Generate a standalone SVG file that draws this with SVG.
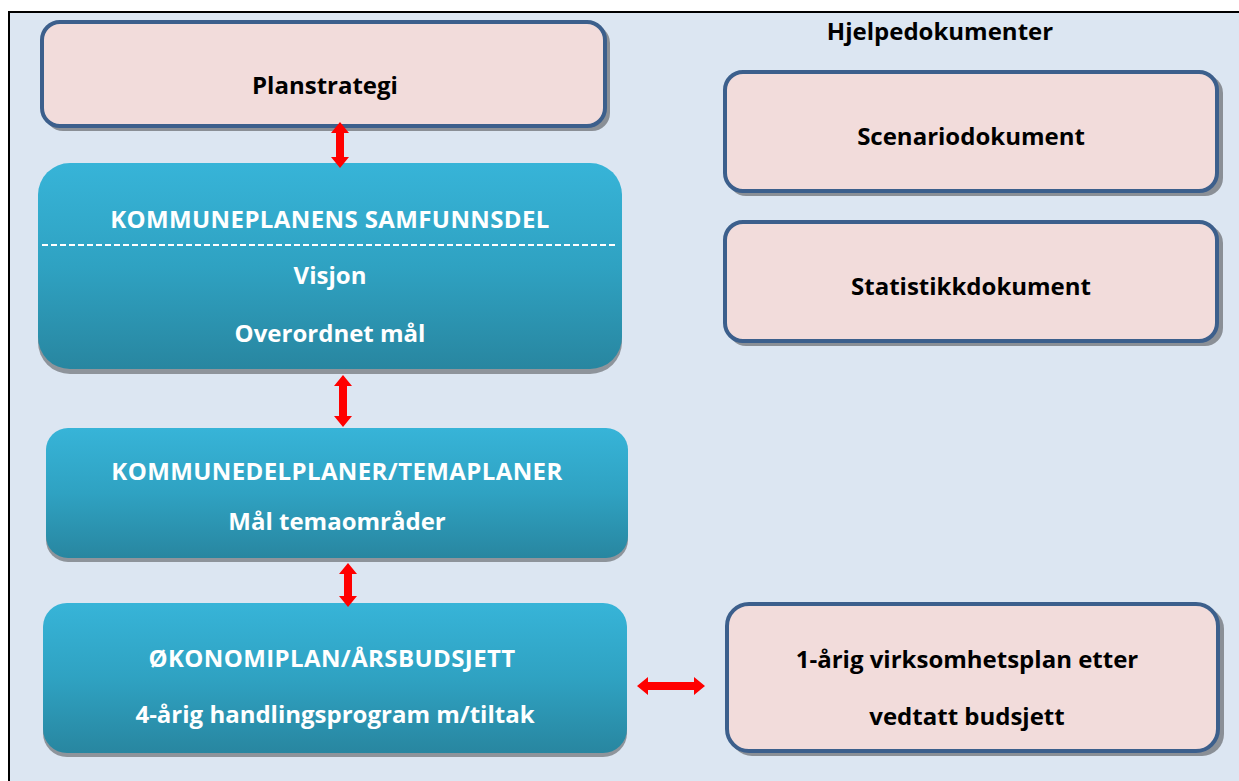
<svg xmlns="http://www.w3.org/2000/svg" width="1239" height="781" viewBox="0 0 1239 781">
<defs>
<linearGradient id="teal" x1="0" y1="0" x2="0" y2="1">
<stop offset="0" stop-color="#37b4d8"/>
<stop offset="0.5" stop-color="#2fa2c2"/>
<stop offset="1" stop-color="#2886a0"/>
</linearGradient>
<style>
.pink{fill:#f2dcdb;stroke:#3c5f8c;stroke-width:4}
.shadow{fill:#8a8f96}
.teal{fill:url(#teal)}
.tshadow{fill:#8e949b}
.t{font-family:"Open Sans","Liberation Sans",sans-serif;font-weight:bold;font-size:24px;text-anchor:middle}
.cap{letter-spacing:0.4px}
.dark{fill:#000}
.white{fill:#fff}
.arrow{fill:#ff0000}
</style>
</defs>
<rect x="0" y="0" width="1239" height="781" fill="#fff"/>
<rect x="9" y="12" width="1240" height="780" fill="#dce6f2" stroke="#000" stroke-width="2"/>

<text class="t dark" x="940" y="40">Hjelpedokumenter</text>

<g id="planstrategi">
<rect class="shadow" x="45" y="25" width="565" height="106" rx="18"/>
<rect class="pink" x="42" y="22" width="563" height="104" rx="18"/>
<text class="t dark" x="325" y="94">Planstrategi</text>
</g>

<g id="samfunnsdel">
<rect class="tshadow" x="38" y="168" width="584" height="206" rx="32"/>
<rect class="teal" x="38" y="163" width="584" height="206" rx="32"/>
<line x1="42" y1="245" x2="617" y2="245" stroke="#fff" stroke-width="2" stroke-dasharray="6,3"/>
<text class="t white cap" x="330" y="228">KOMMUNEPLANENS SAMFUNNSDEL</text>
<text class="t white" x="330" y="284">Visjon</text>
<text class="t white" x="330" y="342">Overordnet mål</text>
</g>

<g id="kommunedelplaner">
<rect class="tshadow" x="46" y="432" width="582" height="130" rx="22"/>
<rect class="teal" x="46" y="428" width="582" height="130" rx="22"/>
<text class="t white cap" x="337" y="480">KOMMUNEDELPLANER/TEMAPLANER</text>
<text class="t white" x="337" y="530">Mål temaområder</text>
</g>

<g id="okonomiplan">
<rect class="tshadow" x="43" y="607" width="584" height="150" rx="24"/>
<rect class="teal" x="43" y="603" width="584" height="150" rx="24"/>
<text class="t white cap" x="332" y="667">ØKONOMIPLAN/ÅRSBUDSJETT</text>
<text class="t white" x="335" y="723">4-årig handlingsprogram m/tiltak</text>
</g>

<g id="scenariodokument">
<rect class="shadow" x="728" y="75" width="495" height="121" rx="18"/>
<rect class="pink" x="725" y="72" width="492" height="119" rx="18"/>
<text class="t dark" x="971" y="145">Scenariodokument</text>
</g>

<g id="statistikkdokument">
<rect class="shadow" x="728" y="225" width="495" height="121" rx="18"/>
<rect class="pink" x="725" y="222" width="492" height="119" rx="18"/>
<text class="t dark" x="971" y="295">Statistikkdokument</text>
</g>

<g id="virksomhetsplan">
<rect class="shadow" x="730" y="607" width="494" height="149" rx="22"/>
<rect class="pink" x="727" y="604" width="491" height="147" rx="22"/>
<text class="t dark" x="967" y="668">1-årig virksomhetsplan etter</text>
<text class="t dark" x="967" y="725">vedtatt budsjett</text>
</g>

<g id="connectors">
<polygon class="arrow" points="340,122 349,133 344,133 344,157 349,157 340,168 331,157 336,157 336,133 331,133"/>
<polygon class="arrow" points="343,375 352,386 347,386 347,416 352,416 343,427 334,416 339,416 339,386 334,386"/>
<polygon class="arrow" points="348,563 357,574 352,574 352,596 357,596 348,607 339,596 344,596 344,574 339,574"/>
<polygon class="arrow" points="637,686 648,677 648,682 694,682 694,677 705,686 694,695 694,690 648,690 648,695"/>
</g>
</svg>
